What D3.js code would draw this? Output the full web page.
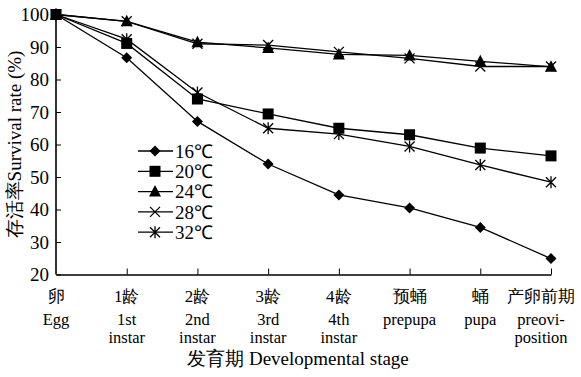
<!DOCTYPE html>
<html>
<head>
<meta charset="utf-8">
<script src="https://cdn.jsdelivr.net/npm/d3@7"></script>
<style>
  body { margin: 0; background: #fff; }
</style>
</head>
<body>
<div id="chart"></div>
<script>
(function() {
  var width = 581;
  var height = 377;
  var serif = "'Liberation Serif', 'Times New Roman', serif";

  // categories: chinese + english lines
  var stagesCn = ["卵", "1龄", "2龄", "3龄", "4龄", "预蛹", "蛹", "产卵前期"];
  var stagesEn = [["Egg"], ["1st", "instar"], ["2nd", "instar"], ["3rd", "instar"],
                  ["4th", "instar"], ["prepupa"], ["pupa"], ["preovi-", "position"]];

  var temps = ["16℃", "20℃", "24℃", "28℃", "32℃"];
  var symbols = ["diamond", "square", "triangle", "cross", "asterisk"];

  var t16 = [100, 86.7, 67.1, 54, 44.5, 40.5, 34.5, 24.9];
  var t20 = [100, 91.1, 74, 69.4, 65, 63, 58.9, 56.5];
  var t24 = [100, 97.9, 91.5, 89.7, 87.7, 87.4, 85.6, 83.9];
  var t28 = [100, 97.9, 91, 90.6, 88.5, 86.5, 84, 84];
  var t32 = [100, 92.4, 76, 65, 63.2, 59.4, 53.7, 48.4];
  var series = [t16, t20, t24, t28, t32];

  var yTicks = [20, 30, 40, 50, 60, 70, 80, 90, 100];

  var margin = {left: 56, right: 30, top: 14.5, bottom: 102.5};

  var svg = d3.select("#chart").append("svg")
    .attr("width", width)
    .attr("height", height)
    .style("font-family", serif);

  var x = d3.scalePoint()
    .domain(d3.range(stagesCn.length))
    .range([margin.left, width - margin.right]);

  var y = d3.scaleLinear()
    .domain([20, 100])
    .range([height - margin.bottom, margin.top]);

  // axes
  var yAxis = d3.axisLeft(y).tickValues(yTicks).tickSizeInner(-5).tickSizeOuter(0).tickPadding(7);
  var gy = svg.append("g")
    .attr("transform", "translate(" + margin.left + ",0)")
    .call(yAxis);
  gy.selectAll("text")
    .style("font-family", serif)
    .style("font-size", "19px")
    .attr("fill", "#000")
    .attr("dy", "0.34em");
  gy.select(".domain").attr("stroke", "#000").attr("stroke-width", 1.6)
    .attr("d", "M0," + y(20) + "V" + (y(100) - 2));
  gy.selectAll(".tick line").attr("stroke-width", 1);

  var xAxis = d3.axisBottom(x).tickSizeInner(-6).tickSizeOuter(0).tickFormat("");
  var gx = svg.append("g")
    .attr("transform", "translate(0," + y(20) + ")")
    .call(xAxis);
  gx.select(".domain").attr("stroke", "#000").attr("stroke-width", 1.6);
  gx.selectAll(".tick line").attr("stroke-width", 1)
    .filter(function(d) { return d === 0; }).remove();

  // category labels
  var lab = svg.append("g");
  stagesCn.forEach(function(c, i) {
    var shift = (i === stagesCn.length - 1) ? -10 : 0;
    lab.append("text")
      .attr("x", x(i) + shift)
      .attr("y", y(20) + 27)
      .attr("text-anchor", "middle")
      .style("font-family", serif)
      .style("font-size", "17px")
      .text(c);
    stagesEn[i].forEach(function(s, j) {
      lab.append("text")
        .attr("x", x(i) + shift)
        .attr("y", y(20) + 50 + j * 18.5)
        .attr("text-anchor", "middle")
        .style("font-family", serif)
        .style("font-size", "16.5px")
        .text(s);
    });
  });

  // axis titles
  svg.append("text")
    .attr("x", 298)
    .attr("y", 365)
    .attr("text-anchor", "middle")
    .style("font-family", serif)
    .style("font-size", "19px")
    .text("发育期 Developmental stage");

  svg.append("text")
    .attr("transform", "translate(21," + ((y(20) + y(100)) / 2) + ") rotate(-90)")
    .attr("text-anchor", "middle")
    .style("font-family", serif)
    .style("font-size", "19px")
    .text("存活率Survival rate (%)");

  // marker drawing
  function marker(g, type) {
    if (type === "diamond") {
      g.append("path").attr("d", "M0,-5.5L5.5,0L0,5.5L-5.5,0Z").attr("fill", "#000");
    } else if (type === "square") {
      g.append("rect").attr("x", -5.5).attr("y", -5.5).attr("width", 11).attr("height", 11).attr("fill", "#000");
    } else if (type === "triangle") {
      g.append("path").attr("d", "M0,-6.5L6,5L-6,5Z").attr("fill", "#000");
    } else if (type === "cross") {
      g.append("path").attr("d", "M-5,-5L5,5M-5,5L5,-5").attr("stroke", "#000").attr("stroke-width", 1.3);
    } else {
      g.append("path").attr("d", "M-5,-5L5,5M-5,5L5,-5M0,-6V6").attr("stroke", "#000").attr("stroke-width", 1.3);
    }
  }

  var line = d3.line()
    .x(function(d, i) { return x(i); })
    .y(function(d) { return y(d); });

  series.forEach(function(s, k) {
    svg.append("path")
      .datum(s)
      .attr("fill", "none")
      .attr("stroke", "#000")
      .attr("stroke-width", 1.3)
      .attr("d", line);
    s.forEach(function(v, i) {
      var g = svg.append("g").attr("transform", "translate(" + x(i) + "," + y(v) + ")");
      marker(g, symbols[k]);
    });
  });

  // legend
  var legend = svg.append("g").attr("transform", "translate(138,151)");
  temps.forEach(function(t, k) {
    var row = legend.append("g").attr("transform", "translate(0," + k * 20.3 + ")");
    row.append("line").attr("x1", 0).attr("x2", 35).attr("y1", 0).attr("y2", 0)
      .attr("stroke", "#000").attr("stroke-width", 1.3);
    marker(row.append("g").attr("transform", "translate(17,0)"), symbols[k]);
    row.append("text").attr("x", 37).attr("y", 0).attr("dy", "0.35em")
      .style("font-family", serif)
      .style("font-size", "19px").text(t);
  });
})();
</script>
</body>
</html>
